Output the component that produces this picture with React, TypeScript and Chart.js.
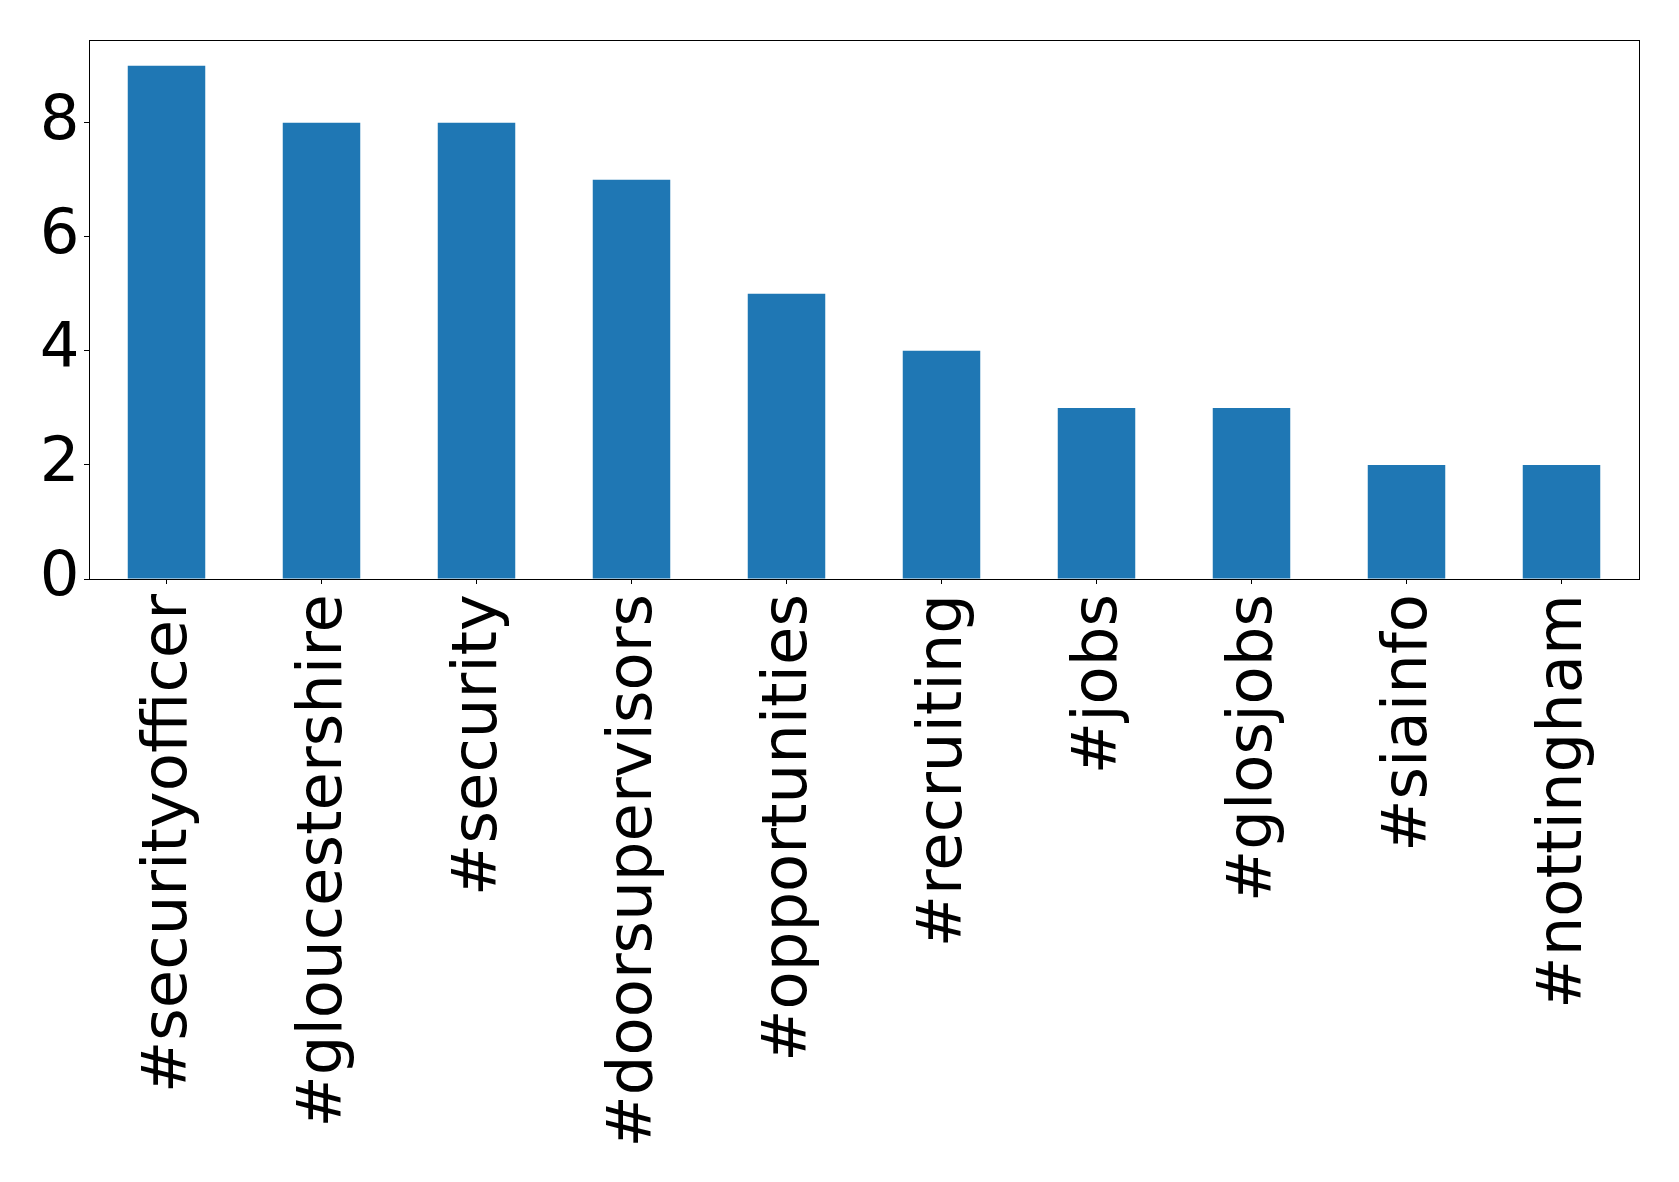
import React, { useEffect, useRef } from "react";
import { Chart, registerables } from "chart.js";

Chart.register(...registerables);

const categories = [
  "#securityofficer",
  "#gloucestershire",
  "#security",
  "#doorsupervisors",
  "#opportunities",
  "#recruiting",
  "#jobs",
  "#glosjobs",
  "#siainfo",
  "#nottingham",
];
const counts = [9, 8, 8, 7, 5, 4, 3, 3, 2, 2];
const yTicks = [0, 2, 4, 6, 8];
const yMax = 9.45;

const W = 1679;
const H = 1182;

const frame = {
  id: "frame",
  afterDraw(chart: any) {
    const { ctx, chartArea } = chart;
    ctx.save();
    ctx.strokeStyle = "#000";
    ctx.lineWidth = 1;
    ctx.strokeRect(
      Math.round(chartArea.left) + 0.5,
      Math.round(chartArea.top) + 0.5,
      Math.round(chartArea.right - chartArea.left),
      Math.round(chartArea.bottom - chartArea.top)
    );
    ctx.restore();
  },
};

export default function App() {
  const ref = useRef<HTMLCanvasElement | null>(null);
  useEffect(() => {
    if (!ref.current) return;
    const chart = new Chart(ref.current, {
      type: "bar",
      data: {
        labels: categories,
        datasets: [
          {
            data: counts,
            backgroundColor: "#1f77b4",
            borderWidth: 0,
            barPercentage: 0.5,
            categoryPercentage: 1,
          },
        ],
      },
      options: {
        responsive: false,
        animation: false,
        devicePixelRatio: 1,
        layout: { padding: { top: 40, right: 40, left: 0, bottom: 0 } },
        plugins: { legend: { display: false }, tooltip: { enabled: false } },
        scales: {
          x: {
            offset: true,
            grid: {
              drawOnChartArea: false,
              drawTicks: true,
              tickLength: 5,
              color: "#000",
              offset: false,
            },
            border: { display: true, color: "#000", width: 1 },
            ticks: {
              minRotation: 90,
              maxRotation: 90,
              autoSkip: false,
              padding: 10,
              labelOffset: 3,
              color: "#000",
              font: { family: "DejaVu Sans", size: 62.5 },
            },
            afterFit(scale: any) {
              scale.height = H - 579;
              scale.paddingLeft = 0;
              scale.paddingRight = 0;
            },
          },
          y: {
            min: 0,
            max: yMax,
            grid: {
              drawOnChartArea: false,
              drawTicks: true,
              tickLength: 5,
              color: "#000",
            },
            border: { display: true, color: "#000", width: 1 },
            afterBuildTicks(scale: any) {
              scale.ticks = yTicks.map((v) => ({ value: v }));
            },
            ticks: {
              padding: 4.5,
              color: "#000",
              font: { family: "DejaVu Sans", size: 62.5 },
            },
            afterFit(scale: any) {
              scale.width = 89;
              scale.paddingTop = 0;
              scale.paddingBottom = 0;
            },
          },
        },
      },
      plugins: [frame],
    });
    return () => chart.destroy();
  }, []);
  return (
    <div style={{ position: "fixed", left: 0, top: 0, width: W, height: H, background: "#fff" }}>
      <canvas ref={ref} width={W} height={H} style={{ width: W, height: H }} />
    </div>
  );
}
